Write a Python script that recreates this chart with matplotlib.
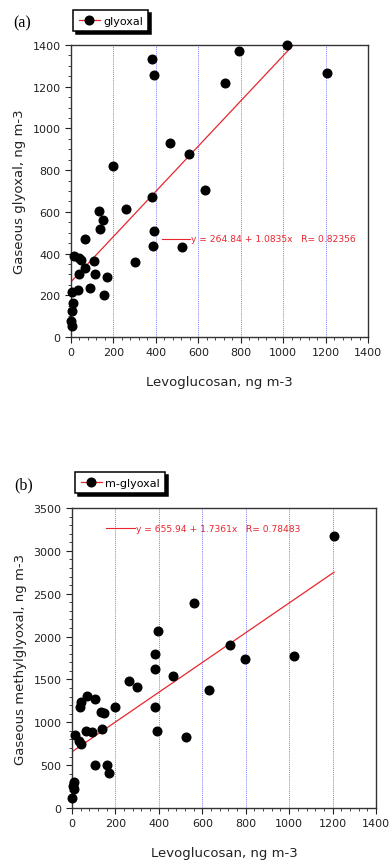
import matplotlib
matplotlib.use("Agg")
import matplotlib.pyplot as plt
import numpy as np
from matplotlib.lines import Line2D
from matplotlib.ticker import MultipleLocator

# ---- data ----
levo_a = [0, 3, 6, 11, 3, 34, 14, 38, 46, 107, 66, 39, 112, 171, 88, 154, 133, 151,
          137, 66, 259, 383, 389, 385, 300, 523, 632, 383, 392, 793, 728, 1019, 1207,
          466, 557, 196]
glyoxal = [77, 54, 123, 163, 217, 226, 390, 379, 371, 362, 333, 300, 301, 290, 236, 199,
           603, 563, 518, 469, 615, 673, 510, 438, 359, 432, 703, 1333, 1258, 1370, 1220,
           1399, 1266, 931, 879, 820]

levo_b = [563, 395, 384, 384, 465, 261, 301, 69, 43, 37, 107, 197, 135, 149, 381, 63, 91,
          138, 391, 525, 14, 31, 40, 107, 160, 169, 11, 5, 9, 0, 728, 797, 1021, 632, 1207]
mglyoxal = [2393, 2070, 1795, 1620, 1542, 1484, 1406, 1305, 1239, 1173, 1274, 1184, 1119,
            1107, 1177, 893, 889, 920, 893, 827, 846, 781, 749, 497, 505, 411, 303, 260,
            221, 116, 1907, 1736, 1779, 1379, 3170]

fit_a = (264.84, 1.0835, 0.82356)
fit_b = (655.94, 1.7361, 0.78483)

xticks = [0, 200, 400, 600, 800, 1000, 1200, 1400]
grid_x = [200, 400, 600, 800, 1000, 1200]

RED = "#e8262e"

fig = plt.figure(figsize=(3.91, 8.62), dpi=100)

def panel(rect, x, y, fit, ylim, ymajor, yminor, ylabel, tag, tag_xy, leg_label, leg_xy,
          ann_xy):
    ax = fig.add_axes(rect)
    ax.set_xlim(0, 1400)
    ax.set_ylim(*ylim)
    for gx in grid_x:
        ax.axvline(gx, color="#5050f0", lw=0.5, ls=(0, (1.5, 1.5)), zorder=1)
    b0, b1, r = fit
    xs = np.array([0, max(x)])
    ax.plot(xs, b0 + b1 * xs, color=RED, lw=0.9, zorder=2)
    ax.plot(x, y, ls="none", marker="o", ms=6.2, color="black", zorder=3, clip_on=False)
    ax.set_xticks(xticks)
    ax.xaxis.set_minor_locator(MultipleLocator(40))
    ax.yaxis.set_major_locator(MultipleLocator(ymajor))
    ax.yaxis.set_minor_locator(MultipleLocator(yminor))
    ax.tick_params(which="major", direction="out", length=4, width=0.8,
                   labelsize=8, colors="#222222", top=False, right=False)
    ax.tick_params(which="minor", direction="out", length=2.5, width=0.7,
                   colors="#444444", top=False, right=False)
    for s in ax.spines.values():
        s.set_color("#333333")
        s.set_linewidth(1.0)
    ax.set_xlabel("Levoglucosan, ng m-3", fontsize=9.5, labelpad=13, color="#222222")
    ax.set_ylabel(ylabel, fontsize=9.5, labelpad=5, color="#222222")
    # fit annotation
    ax.plot([ann_xy[0], ann_xy[0] + 0.095], [ann_xy[1]] * 2, color=RED, lw=0.8,
            transform=ax.transAxes, clip_on=False)
    ax.text(ann_xy[0] + 0.1, ann_xy[1], f"y = {b0:.2f} + {b1:.4f}x   R= {r:.5f}",
            transform=ax.transAxes, color=RED, fontsize=6.6, va="center", ha="left")
    # panel tag
    fig.text(tag_xy[0], tag_xy[1], tag, family="Liberation Serif", fontsize=11.5,
             ha="center", va="center")
    # legend
    h = Line2D([], [], color=RED, lw=0.9, marker="o", ms=6.2, mfc="black", mec="black")
    leg = ax.legend([h], [leg_label], loc="upper left",
                    bbox_to_anchor=leg_xy, bbox_transform=fig.transFigure,
                    borderaxespad=0, fancybox=False, frameon=True,
                    shadow={"color": "black", "alpha": 1.0},
                    handlelength=1.9, handletextpad=0.3, borderpad=0.5,
                    prop={"size": 8})
    leg.get_frame().set_edgecolor("black")
    leg.get_frame().set_linewidth(1.1)
    return ax

panel([71 / 391, 1 - 338 / 862, 297 / 391, 292 / 862], levo_a, glyoxal, fit_a,
      (0, 1400), 200, 50, "Gaseous glyoxal, ng m-3", "(a)", (22 / 391, 1 - 23 / 862),
      "glyoxal", (73 / 391, 1 - 11 / 862), (0.305, 0.337))

panel([72 / 391, 1 - 809 / 862, 304 / 391, 300 / 862], levo_b, mglyoxal, fit_b,
      (0, 3500), 500, 100, "Gaseous methylglyoxal, ng m-3", "(b)",
      (24 / 391, 1 - 485 / 862), "m-glyoxal", (75 / 391, 1 - 473 / 862),
      (0.112, 0.933))

fig.savefig("out.png", dpi=100)
